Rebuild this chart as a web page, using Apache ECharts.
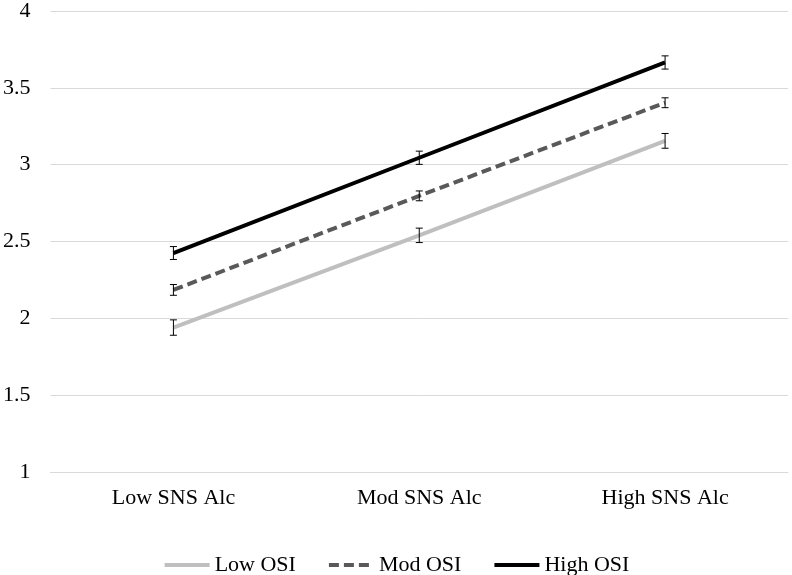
<!DOCTYPE html>
<html>
<head>
<meta charset="utf-8">
<script src="https://cdn.jsdelivr.net/npm/echarts@6/dist/echarts.min.js"></script>
<style>html,body{margin:0;padding:0;background:#fff;}#chart{width:792px;height:575px;}</style>
</head>
<body>
<div id="chart"></div>
<script>
const categories = ['Low SNS Alc', 'Mod SNS Alc', 'High SNS Alc'];
const seriesNames = ['Low OSI', 'Mod OSI', 'High OSI'];
const lowOSI = [1.94, 2.54, 3.155];
const modOSI = [2.185, 2.797, 3.403];
const highOSI = [2.425, 3.045, 3.665];
const lowErr = [0.05, 0.047, 0.048];
const modErr = [0.035, 0.032, 0.032];
const highErr = [0.042, 0.043, 0.043];
const yTicks = [1, 1.5, 2, 2.5, 3, 3.5, 4];

const colors = ['#bfbfbf', '#595959', '#000000'];
const values = [lowOSI, modOSI, highOSI];
const errs = [lowErr, modErr, highErr];

const chart = echarts.init(document.getElementById('chart'));
const font = 'Liberation Serif, Times New Roman, serif';

const lineSeries = values.map((v, i) => ({
  name: seriesNames[i],
  type: 'line',
  data: v,
  symbol: 'none',
  lineStyle: { color: colors[i], width: 4, type: i === 1 ? [10, 5] : 'solid', cap: 'butt' },
  itemStyle: { color: colors[i] },
  z: 3,
  animation: false
}));

const errData = [];
values.forEach((v, i) => v.forEach((val, j) => errData.push([j, val - errs[i][j], val + errs[i][j]])));

const errSeries = {
  type: 'custom',
  name: 'err',
  data: errData,
  z: 5,
  animation: false,
  renderItem: function (params, api) {
    const x = api.value(0);
    const lo = api.coord([x, api.value(1)]);
    const hi = api.coord([x, api.value(2)]);
    const hw = 3.5;
    const st = { stroke: '#000', lineWidth: 1 };
    return {
      type: 'group',
      children: [
        { type: 'line', shape: { x1: lo[0], y1: lo[1], x2: hi[0], y2: hi[1] }, style: st },
        { type: 'line', shape: { x1: lo[0] - hw, y1: lo[1], x2: lo[0] + hw, y2: lo[1] }, style: st },
        { type: 'line', shape: { x1: hi[0] - hw, y1: hi[1], x2: hi[0] + hw, y2: hi[1] }, style: st }
      ]
    };
  }
};

chart.setOption({
  backgroundColor: '#fff',
  textStyle: { fontFamily: font },
  grid: { left: 48, right: 4, top: 9, bottom: 103, containLabel: false },
  legend: {
    data: seriesNames,
    top: 549,
    left: 'center',
    itemWidth: 45,
    itemHeight: 14,
    itemGap: 31,
    itemStyle: { opacity: 0 },
    lineStyle: { width: 4 },
    textStyle: { fontFamily: font, fontSize: 22, color: '#000', padding: [0, 0, 0, 0] }
  },
  xAxis: {
    type: 'category',
    data: categories,
    boundaryGap: true,
    axisLine: { show: true, lineStyle: { color: '#d9d9d9', width: 1 } },
    axisTick: { show: false },
    axisLabel: { fontFamily: font, fontSize: 22, color: '#000', margin: 15 }
  },
  yAxis: {
    type: 'value',
    min: 1,
    max: 4,
    interval: 0.5,
    axisLine: { show: false },
    axisTick: { show: false },
    axisLabel: { fontFamily: font, fontSize: 22, color: '#000', margin: 20 },
    splitLine: { lineStyle: { color: '#d9d9d9', width: 1 } }
  },
  series: [...lineSeries, errSeries]
});
</script>
</body>
</html>
